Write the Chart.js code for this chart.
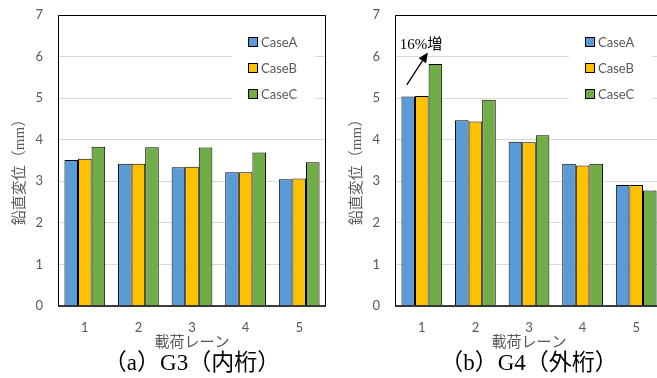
<!DOCTYPE html>
<html><head><meta charset="utf-8">
<script src="https://cdn.jsdelivr.net/npm/chart.js@4"></script>
<style>
html,body{margin:0;padding:0;background:#fff;overflow:hidden;width:657px;height:378px;}
#wrap{position:relative;width:657px;height:378px;overflow:hidden;}
.cw{position:absolute;top:0;width:330px;height:378px;}
.cap{position:absolute;top:349px;width:268px;text-align:center;font-family:"Liberation Serif","Noto Sans CJK JP",serif;font-size:23px;color:#000;line-height:28px;white-space:nowrap}
</style></head>
<body><div id="wrap">
<div class="cw" style="left:0"><canvas id="c1" width="330" height="378"></canvas></div>
<div class="cw" style="left:337px"><canvas id="c2" width="330" height="378"></canvas></div>
<div class="cap" style="left:58px">（a）G3（内桁）</div>
<div class="cap" style="left:395px">（b）G4（外桁）</div>
</div>
<script>
const lanes = ['1','2','3','4','5'];
const seriesNames = ['CaseA','CaseB','CaseC'];
const g3CaseA = [3.51,3.42,3.34,3.22,3.05];
const g3CaseB = [3.54,3.42,3.35,3.22,3.07];
const g3CaseC = [3.83,3.82,3.81,3.69,3.46];
const g4CaseA = [5.04,4.47,3.95,3.42,2.91];
const g4CaseB = [5.05,4.44,3.94,3.38,2.91];
const g4CaseC = [5.82,4.96,4.11,3.42,2.78];
const yTicks = [0,1,2,3,4,5,6,7];
const xTitle = '載荷レーン';
const yTitle = '鉛直変位（mm）';
const noteText = '16%増';
const colors = ['#5B9BD5','#FFC000','#70AD47'];
const tickColor = '#595959';

const framePlugin = {
  id:'frame',
  afterDatasetsDraw(chart){
    const {ctx, chartArea:a} = chart;
    ctx.save();
    ctx.strokeStyle = '#000';
    ctx.lineWidth = 1;
    ctx.beginPath();
    ctx.moveTo(a.left+0.5, a.bottom);
    ctx.lineTo(a.left+0.5, a.top+0.5);
    ctx.lineTo(a.right-0.5, a.top+0.5);
    ctx.lineTo(a.right-0.5, a.bottom);
    ctx.stroke();
    ctx.lineWidth = 1.6;
    ctx.beginPath();
    ctx.moveTo(a.left, a.bottom);
    ctx.lineTo(a.right, a.bottom);
    ctx.stroke();
    ctx.restore();
  }
};
const yTitlePlugin = {
  id:'yTitle',
  afterDraw(chart){
    const {ctx, chartArea:a} = chart;
    ctx.save();
    ctx.translate(20, (a.top+a.bottom)/2 + 8);
    ctx.rotate(-Math.PI/2);
    ctx.fillStyle = tickColor;
    ctx.font = '15px "Liberation Serif", "Noto Sans CJK JP", serif';
    ctx.textAlign = 'center';
    ctx.textBaseline = 'middle';
    ctx.fillText(yTitle, 0, 0);
    ctx.restore();
  }
};
const legendPlugin = {
  id:'boxLegend',
  afterDraw(chart){
    const {ctx, chartArea:a} = chart;
    ctx.save();
    ctx.fillStyle = '#fff';
    ctx.fillRect(a.left+174, a.top+13, 83, 80);
    chart.data.datasets.forEach((ds,i)=>{
      const cy = a.top + 27 + i*26;
      const sx = a.left+190;
      ctx.fillStyle = ds.backgroundColor;
      ctx.fillRect(sx+0.5, cy-4.5, 9, 9);
      ctx.strokeStyle = '#000';
      ctx.lineWidth = 1;
      ctx.strokeRect(sx+0.5, cy-4.5, 9, 9);
      ctx.fillStyle = tickColor;
      ctx.font = '13px Lato, "Open Sans", sans-serif';
      ctx.textBaseline = 'middle';
      ctx.textAlign = 'left';
      ctx.fillText(ds.label, sx+13, cy+0.5);
    });
    ctx.restore();
  }
};
const notePlugin = {
  id:'note',
  afterDraw(chart){
    const {ctx} = chart;
    const xs = chart.scales.x, ys = chart.scales.y;
    const cx = xs.getPixelForValue(0);
    ctx.save();
    ctx.fillStyle = '#000';
    ctx.font = '15px "Liberation Serif", "Noto Sans CJK JP", serif';
    ctx.textBaseline = 'middle';
    ctx.textAlign = 'left';
    ctx.fillText(noteText, cx-22, ys.getPixelForValue(6.28));
    const x0 = cx-15, y0 = ys.getPixelForValue(5.32);
    const x1 = cx+6, y1 = ys.getPixelForValue(6.1);
    const ang = Math.atan2(y1-y0, x1-x0);
    const L = 10, W = 4.5;
    const bx = x1 - L*Math.cos(ang), by = y1 - L*Math.sin(ang);
    ctx.strokeStyle = '#000';
    ctx.lineWidth = 1.3;
    ctx.beginPath(); ctx.moveTo(x0,y0); ctx.lineTo(bx,by); ctx.stroke();
    ctx.beginPath();
    ctx.moveTo(x1,y1);
    ctx.lineTo(bx - W*Math.sin(ang), by + W*Math.cos(ang));
    ctx.lineTo(bx + W*Math.sin(ang), by - W*Math.cos(ang));
    ctx.closePath(); ctx.fill();
    ctx.restore();
  }
};

function makeChart(id, seriesArr, extraPlugins){
  return new Chart(document.getElementById(id), {
    type:'bar',
    data:{
      labels: lanes,
      datasets: seriesArr.map((d,i)=>({
        label: seriesNames[i], data: d,
        backgroundColor: colors[i], borderColor:'#000', borderWidth:1,
        categoryPercentage:0.76, barPercentage:1.0
      }))
    },
    options:{
      responsive:false, animation:false,
      layout:{padding:{top:15,left:0,right:4,bottom:26}},
      plugins:{legend:{display:false}, tooltip:{enabled:false}, title:{display:false}},
      scales:{
        x:{
          grid:{display:false, drawTicks:false}, border:{display:false},
          ticks:{color:tickColor, font:{family:'Lato, "Open Sans", sans-serif', size:13}, padding:14, maxRotation:0},
          title:{display:true, text:xTitle, color:tickColor, font:{family:'"Noto Sans CJK JP", sans-serif', size:15}, padding:{top:0,bottom:2}},
          afterFit(s){ s.height = 46; }
        },
        y:{
          min:0, max:7,
          afterBuildTicks(s){ s.ticks = yTicks.map(v=>({value:v})); },
          grid:{color:'#D9D9D9', lineWidth:1, drawTicks:true, tickLength:15, tickColor:'rgba(0,0,0,0)'}, border:{display:false},
          ticks:{color:tickColor, font:{family:'Lato, "Open Sans", sans-serif', size:13}, padding:0},
          title:{display:false},
          afterFit(s){ s.width = 58; }
        }
      }
    },
    plugins:[framePlugin, legendPlugin, yTitlePlugin].concat(extraPlugins||[])
  });
}
makeChart('c1', [g3CaseA, g3CaseB, g3CaseC]);
makeChart('c2', [g4CaseA, g4CaseB, g4CaseC], [notePlugin]);
</script>
</body></html>
